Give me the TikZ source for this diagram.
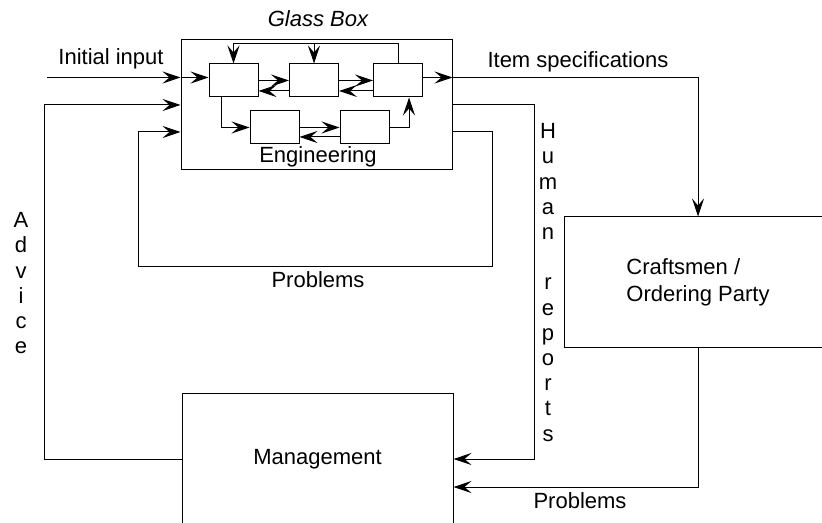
\documentclass[tikz,border=0pt]{standalone}
\usepackage{fontspec}
\setmainfont{Liberation Sans}
\usetikzlibrary{arrows.meta}
\begin{document}
\begin{tikzpicture}[x=1bp,y=-1bp,
  line width=1bp,
  every node/.style={font=\fontsize{22bp}{25.2bp}\selectfont, inner sep=0pt},
  box/.style={draw, rectangle},
  ibox/.style={box, minimum width=49bp, minimum height=33bp},
  arr/.style={-{Stealth[length=18bp,width=12bp,inset=7bp]}},
  lbl/.style={anchor=base},
  stack/.style={align=center, anchor=north}
]
\useasboundingbox (0,0) rectangle (822,523);

% outer blocks
\node[box, minimum width=271bp, minimum height=130bp] (glass) at (316.5,105) {};
\node[box, minimum width=268bp, minimum height=130bp,
      align=left, font=\fontsize{22bp}{27bp}\selectfont] (craft) at (698,282)
      {Craftsmen /\\Ordering Party};
\node[box, minimum width=271bp, minimum height=132bp] (mgmt) at (317.5,459) {Management};

% blocks inside the glass box
\node[ibox] (b1) at (233.5,80.5) {};
\node[ibox] (b2) at (314,80.5) {};
\node[ibox] (b3) at (398,80.5) {};
\node[ibox] (b4) at (274.5,127.5) {};
\node[ibox] (b5) at (364.5,127.5) {};

% labels
\node[lbl, font=\fontsize{22bp}{25.2bp}\selectfont\itshape] (tglass) at (318,27) {Glass Box};
\node[lbl] (teng) at (318,163) {Engineering};
\node[lbl] (tinit) at (111,65) {Initial input};
\node[lbl] (titem) at (578,68) {Item specifications};
\node[lbl] (tprob1) at (318,288) {Problems};
\node[lbl] (tprob2) at (580,508) {Problems};
\node[stack] (tadv) at (21,212) {A\\d\\v\\i\\c\\e};
\node[stack] (thum) at (548,123) {H\\u\\m\\a\\n\\ \\r\\e\\p\\o\\r\\t\\s};

% connections inside the glass box
\draw[arr] (b1.east) -- (b2.west);
\draw[arr] ([yshift=-10.5bp]b2.west) -- ([yshift=-10.5bp]b1.east);
\draw[arr] (b2.east) -- (b3.west);
\draw[arr] ([yshift=-10.5bp]b3.west) -- ([yshift=-10.5bp]b2.east);
\draw[arr] (b3.north) -- ++(0,-20) -| (b1.north);
\draw[arr] ([yshift=20bp]b2.north) -- (b2.north);
\draw[arr] ([xshift=-12.5bp]b1.south) |- (b4.west);
\draw[arr] (b4.east) -- (b5.west);
\draw[arr] ([yshift=-9.5bp]b5.west) -- ([yshift=-9.5bp]b4.east);
\draw[arr] (b5.east) -| ([xshift=11bp]b3.south);

% input and output of the glass box
\coordinate (in) at (47,77.5);
\draw[arr] (in) -- (in -| glass.west);
\draw[arr] (in -| glass.west) -- (in -| b1.west);
\draw[arr] ([yshift=3bp]b3.east) -- ([yshift=3bp]b3.east -| glass.east);
\draw[arr] ([yshift=3bp]b3.east -| glass.east) -| (craft.north);

% feedback loops
\draw[arr] ([yshift=-27bp]glass.east) -- ++(40,0) -- ++(0,135) -- ++(-354,0)
           -- ++(0,-135) -- ([yshift=-27bp]glass.west);
\draw[arr] (glass.east) -- ++(82,0) |- (mgmt.east);
\draw[arr] (mgmt.west) -- ++(-137,0) |- (glass.west);
\draw[arr] (craft.south) |- ([yshift=-28bp]mgmt.east);
\end{tikzpicture}
\end{document}
